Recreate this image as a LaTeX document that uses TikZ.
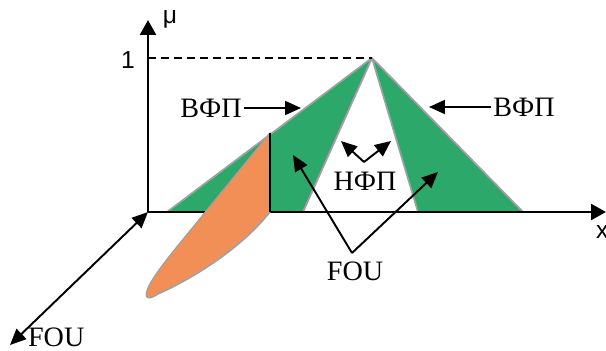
\documentclass[tikz,border=0pt]{standalone}
\usepackage{fontspec}
\setmainfont{Liberation Serif}
\newfontfamily\axisfont{Liberation Sans}
\usetikzlibrary{arrows.meta}
\definecolor{fougreen}{HTML}{2BA86A}
\definecolor{fouorange}{HTML}{F28F57}
\definecolor{edgegray}{HTML}{A0A0A0}
\tikzset{
    band/.style={
        draw=edgegray, fill=fougreen, line width=1pt, line join=round
    },
    leaf/.style={
        draw=edgegray, fill=fouorange, line width=0.8pt, line join=round
    },
    axis/.style={-{Triangle[length=3mm, width=3.2mm]}, line width=1.3pt, color=black},
    arrow/.style={-{Triangle[length=3.2mm, width=2.8mm]}, line width=1.1pt, color=black},
    lbl/.style={font=\fontsize{16}{18}\selectfont, inner sep=1pt},
    axlbl/.style={font=\axisfont\fontsize{14}{16}\selectfont, inner sep=1pt},
}
\begin{document}
\begin{tikzpicture}[x=0.02cm, y=-0.02cm]
    \useasboundingbox (0,0) rectangle (606,351);
    \coordinate (O) at (148,212);
    \coordinate (apex) at (372,58);
    \coordinate (umfL) at (167,212);
    \coordinate (umfR) at (523,212);
    \coordinate (lmfL) at (303,212);
    \coordinate (lmfR) at (418,212);
    \coordinate (cuttop) at (270,133);
    \coordinate (cutbot) at (270,212);
    \coordinate (ytip) at (148,20);
    \coordinate (xtip) at (606,212);
    \coordinate (ztip) at (10,345);
    \coordinate (one) at (148,58);
    \draw[band] (umfL) -- (apex) -- (lmfL) -- cycle;
    \draw[band] (lmfR) -- (apex) -- (umfR) -- cycle;
    \draw[dashed, dash pattern=on 1.6mm off 1mm, line width=1pt] (one) -- (apex);
    \draw[axis] (O) -- (ytip);
    \draw[axis] (O) -- (xtip);
    \draw[axis, {Triangle[length=3.2mm, width=2.8mm]}-{Triangle[length=3.2mm, width=2.8mm]}, line width=1.1pt] (ztip) -- (O);
    \draw[leaf] (cuttop) -- (207,210) .. controls (183,240) and (160,266) .. (150,284)
        .. controls (143,297) and (146,302) .. (158,294)
        .. controls (190,280) and (240,250) .. (cutbot) -- cycle;
    \draw[line width=1.3pt] (cuttop) -- (cutbot);
    \node[axlbl] (mu) at (170,19) {μ};
    \node[axlbl] (onelbl) at (128,60) {1};
    \node[axlbl, anchor=west] (xlbl) at (594,232) {x};
    \node[lbl] (vfpL) at (211,108) {ВФП};
    \node[lbl] (vfpR) at (524,107) {ВФП};
    \node[lbl] (nfp) at (365,181) {НФП};
    \node[lbl] (fou) at (355,271) {FOU};
    \node[lbl, anchor=west] (fouz) at (26,337) {FOU};
    \coordinate (vfpLtip) at (301,108);
    \coordinate (vfpRtip) at (429,107);
    \coordinate (nfpV) at (364,162);
    \coordinate (nfpA) at (341,141);
    \coordinate (nfpB) at (391,141);
    \coordinate (fouV) at (352,253);
    \coordinate (fouA) at (293,155);
    \coordinate (fouB) at (438,172);
    \draw[arrow] (vfpL) -- (vfpLtip);
    \draw[arrow] (vfpR) -- (vfpRtip);
    \draw[arrow] (nfpV) -- (nfpA);
    \draw[arrow] (nfpV) -- (nfpB);
    \draw[arrow] (fouV) -- (fouA);
    \draw[arrow] (fouV) -- (fouB);
\end{tikzpicture}
\end{document}
